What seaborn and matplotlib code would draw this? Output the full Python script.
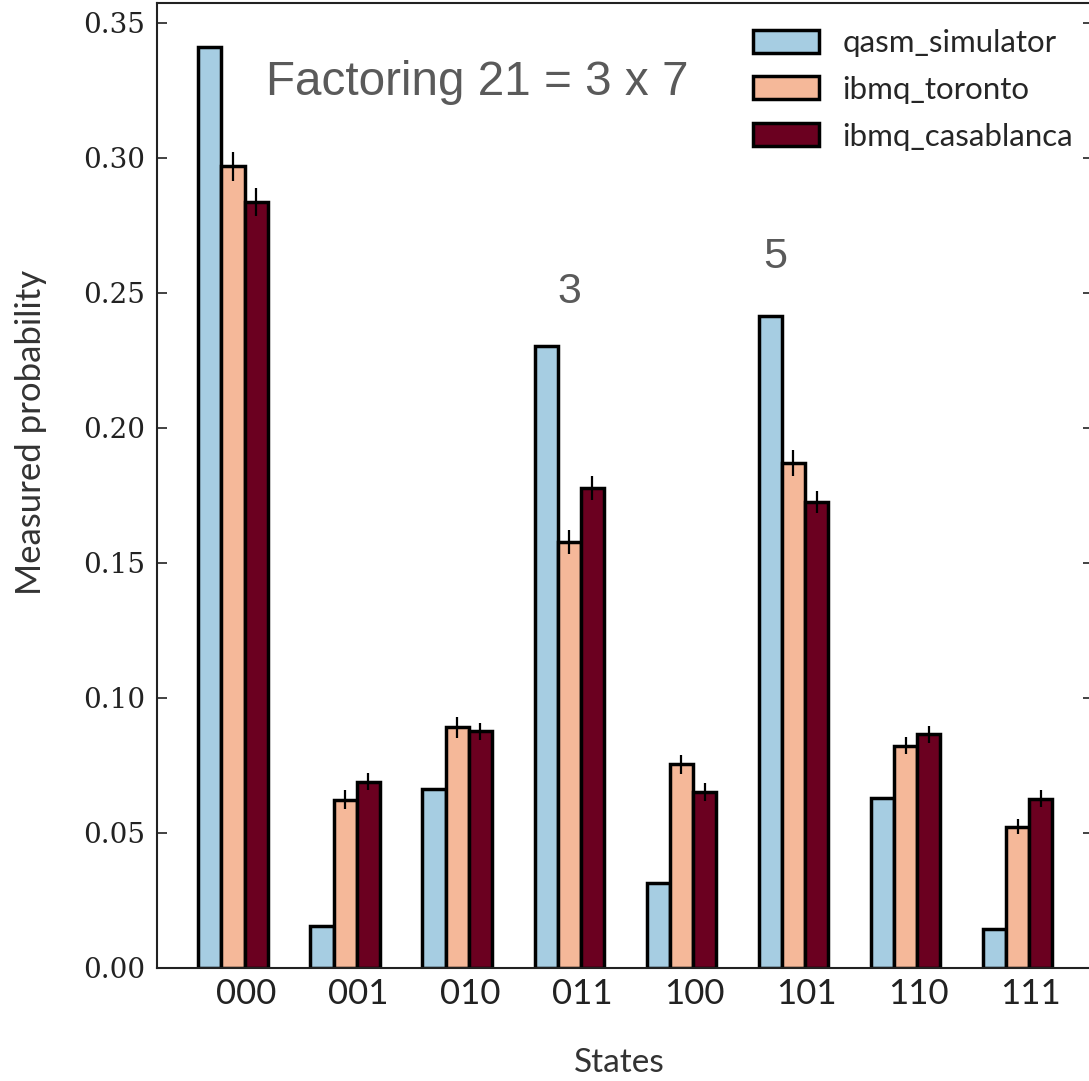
import numpy as np
import pandas as pd
import matplotlib
matplotlib.use("Agg")
import matplotlib.pyplot as plt
import seaborn as sns
from matplotlib.transforms import ScaledTranslation

# ---------------- data ----------------
states = ["000", "001", "010", "011", "100", "101", "110", "111"]
devices = ["qasm_simulator", "ibmq_toronto", "ibmq_casablanca"]
qasm_simulator = [0.341, 0.0156, 0.0664, 0.2305, 0.0316, 0.2413, 0.0631, 0.0145]
ibmq_toronto = [0.297, 0.0624, 0.0891, 0.1578, 0.0754, 0.187, 0.0824, 0.0523]
ibmq_casablanca = [0.2836, 0.069, 0.0876, 0.1778, 0.0653, 0.1726, 0.0865, 0.0627]
toronto_err = [0.0054, 0.0034, 0.0039, 0.0045, 0.0036, 0.0048, 0.0033, 0.0028]
casablanca_err = [0.0052, 0.0032, 0.0033, 0.0046, 0.0034, 0.0042, 0.0031, 0.0031]
colors = ["#a6cde2", "#f5b899", "#6b0020"]
title_text = "Factoring 21 = 3 x 7"
factor_labels = ["3", "5"]
factor_x = [3.0, 4.84]
factor_y = [0.2505, 0.2635]

rows = []
for dev, vals in zip(devices, [qasm_simulator, ibmq_toronto, ibmq_casablanca]):
    for s, v in zip(states, vals):
        rows.append({"States": s, "prob": v, "device": dev})
df = pd.DataFrame(rows)

sns.set_theme(style="white")
plt.rcParams["font.family"] = ["Lato", "DejaVu Sans"]

W, H = 1089, 1081
fig = plt.figure(figsize=(W / 100, H / 100), dpi=100)
ax = fig.add_axes([157 / W, (H - 968) / H, 936 / W, 965 / H])

sns.barplot(data=df, x="States", y="prob", hue="device", hue_order=devices,
            palette=colors, width=0.62, edgecolor="black", linewidth=2.5,
            errorbar=None, ax=ax, saturation=1)

# error bars for hardware runs
for cont, errs in zip(ax.containers[1:], [toronto_err, casablanca_err]):
    xs = [p.get_x() + p.get_width() / 2 for p in cont.patches]
    ys = [p.get_height() for p in cont.patches]
    ax.errorbar(xs, ys, yerr=errs, fmt="none", ecolor="black",
                elinewidth=1.6, capsize=0, zorder=5)

ax.set_xlim(-0.678, 7.672)
ax.set_ylim(0, 0.3574)
ax.set_yticks(np.arange(0, 0.351, 0.05))
ax.set_yticklabels([f"{v:.2f}" for v in np.arange(0, 0.351, 0.05)],
                   family="DejaVu Serif", fontsize=20, color="#222222")
ax.tick_params(axis="y", which="both", direction="in", length=7, width=1.2,
               pad=8.5, left=True, right=True, colors="#222222")
ax.tick_params(axis="x", length=0, pad=7, labelsize=25, labelcolor="#222222")
for lab in ax.get_xticklabels():
    lab.set_transform(lab.get_transform() + ScaledTranslation(13 / 100, 0, fig.dpi_scale_trans))

for sp in ax.spines.values():
    sp.set_color("#222222")
    sp.set_linewidth(1.5)

ax.set_xlabel("States", fontsize=24, color="#333333")
ax.xaxis.set_label_coords(0.494, -0.083)
ax.set_ylabel("Measured probability", fontsize=25, color="#333333")
ax.yaxis.set_label_coords(-0.118, 0.555)

ax.text(0.1165, 0.918, title_text, transform=ax.transAxes, ha="left", va="center",
        fontsize=34.3, color="#5a5a5a", family=["Liberation Sans", "DejaVu Sans"])
for t, x, y in zip(factor_labels, factor_x, factor_y):
    ax.text(x, y, t, ha="center", va="center", fontsize=31, color="#5a5a5a",
            family=["Liberation Sans", "DejaVu Sans"])

handles, labels = ax.get_legend_handles_labels()
ax.legend(handles, labels, loc="upper left", bbox_to_anchor=(0.637, 0.973),
          frameon=False, fontsize=22.5, handlelength=2.1, handleheight=0.75,
          labelspacing=0.6, handletextpad=0.75, borderpad=0, borderaxespad=0)

fig.savefig("out.png", dpi=100)
